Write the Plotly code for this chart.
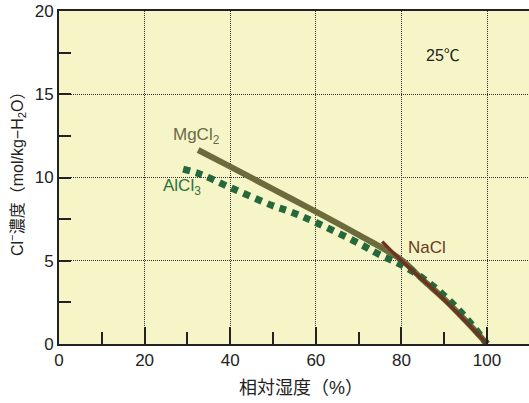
import plotly.graph_objects as go

# Data
mgcl2_x = [32.5, 40, 50, 60, 70, 80, 85, 90, 95, 100]
mgcl2_y = [11.65, 10.65, 9.3, 7.95, 6.55, 5.05, 3.85, 2.7, 1.4, 0.0]

alcl3_x = [29, 33, 40, 50, 54, 60, 70, 75, 80, 85, 90, 95, 100]
alcl3_y = [10.5, 10.2, 9.4, 8.3, 7.95, 7.3, 6.05, 5.35, 4.75, 3.95, 2.9, 1.6, 0.0]

nacl_x = [75.5, 80, 85, 90, 95, 100]
nacl_y = [6.15, 5.0, 3.85, 2.65, 1.35, 0.0]

x_ticks = [0, 20, 40, 60, 80, 100]
y_ticks = [0, 5, 10, 15, 20]

x_title = "相対湿度（%）"
y_title = "Cl<sup>−</sup>濃度（mol/kg−H<sub>2</sub>O）"

FONT = "Liberation Sans, Arial, Noto Sans CJK JP, sans-serif"
BG = "#f5f5c8"
C_MG = "#6d6a3b"
C_AL = "#25683b"
C_NA = "#6b3520"

fig = go.Figure()
fig.add_trace(go.Scatter(x=mgcl2_x, y=mgcl2_y, mode="lines",
                         line=dict(color=C_MG, width=6, shape="spline"),
                         showlegend=False, hoverinfo="skip"))
fig.add_trace(go.Scatter(x=alcl3_x, y=alcl3_y, mode="lines",
                         line=dict(color=C_AL, width=7, dash="7px,6px", shape="spline"),
                         showlegend=False, hoverinfo="skip"))
fig.add_trace(go.Scatter(x=nacl_x, y=nacl_y, mode="lines",
                         line=dict(color=C_NA, width=3.5, shape="spline"),
                         showlegend=False, hoverinfo="skip"))

fig.add_annotation(x=26.2, y=12.5, text="MgCl<sub>2</sub>", showarrow=False,
                   xanchor="left", yanchor="middle",
                   font=dict(family=FONT, size=17, color="#6b6a48"))
fig.add_annotation(x=23.8, y=9.45, text="AlCl<sub>3</sub>", showarrow=False,
                   xanchor="left", yanchor="middle",
                   font=dict(family=FONT, size=17, color="#2e7040"))
fig.add_annotation(x=81.1, y=5.77, text="NaCl", showarrow=False,
                   xanchor="left", yanchor="middle",
                   font=dict(family=FONT, size=17, color="#6b3a24"))
fig.add_annotation(x=89.7, y=17.35, text="25℃", showarrow=False,
                   xanchor="center", yanchor="middle",
                   font=dict(family=FONT, size=16, color="#222222"))

# axis titles
fig.add_annotation(xref="paper", yref="paper", x=0.515, y=-0.132, text=x_title,
                   showarrow=False, xanchor="center", yanchor="middle",
                   font=dict(family=FONT, size=18, color="#222"))
fig.add_annotation(xref="paper", yref="paper", x=-0.0894, y=0.5225, text=y_title,
                   showarrow=False, xanchor="center", yanchor="middle", textangle=-90,
                   font=dict(family=FONT, size=16, color="#222"))

fig.update_xaxes(range=[0, 109.8], tickvals=x_ticks, ticktext=[str(v) for v in x_ticks],
                 ticks="inside", ticklen=17, tickwidth=1.5, tickcolor="#222",
                 minor=dict(dtick=10, tick0=0, ticks="inside", ticklen=12,
                            tickwidth=1.5, tickcolor="#222", showgrid=False),
                 showgrid=True, gridcolor="#333", griddash="1px,1px", gridwidth=1,
                 showline=True, linecolor="#222", linewidth=2, mirror=True,
                 zeroline=False, automargin=False,
                 tickfont=dict(family=FONT, size=17, color="#222"))
fig.update_yaxes(range=[0, 20], tickvals=y_ticks, ticktext=[str(v) for v in y_ticks],
                 ticks="inside", ticklen=12, tickwidth=1.5, tickcolor="#222",
                 minor=dict(dtick=2.5, tick0=0, ticks="inside", ticklen=12,
                            tickwidth=1.5, tickcolor="#222", showgrid=False),
                 showgrid=True, gridcolor="#333", griddash="1px,1px", gridwidth=1,
                 showline=True, linecolor="#222", linewidth=2,
                 zeroline=False, automargin=False,
                 tickfont=dict(family=FONT, size=17, color="#222"))

fig.update_layout(width=529, height=403,
                  margin=dict(l=59, r=0, t=11, b=59, autoexpand=False),
                  paper_bgcolor="white", plot_bgcolor=BG,
                  showlegend=False)

fig.write_html("out.html", config={"displayModeBar": False},
               post_script="document.body.style.margin='0';")
